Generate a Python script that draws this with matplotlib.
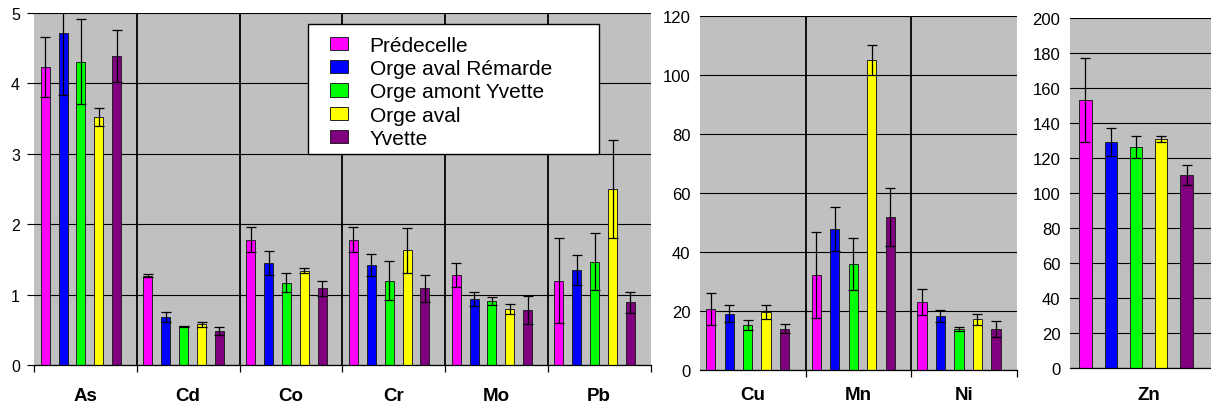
import matplotlib.pyplot as plt
from matplotlib.patches import Patch, Rectangle
import numpy as np

plt.rcParams['font.family'] = ['Liberation Sans', 'DejaVu Sans']

stations = ['Prédecelle', 'Orge aval Rémarde', 'Orge amont Yvette', 'Orge aval', 'Yvette']
colors = ['#ff00ff', '#0000ff', '#00ff00', '#ffff00', '#800080']

# panel 1 : As, Cd, Co, Cr, Mo, Pb  (one row per station)
elem1 = ['As', 'Cd', 'Co', 'Cr', 'Mo', 'Pb']
val1 = [[4.23, 1.27, 1.78, 1.78, 1.28, 1.20],
        [4.72, 0.68, 1.45, 1.42, 0.94, 1.35],
        [4.31, 0.55, 1.17, 1.20, 0.91, 1.47],
        [3.52, 0.58, 1.34, 1.63, 0.79, 2.50],
        [4.39, 0.48, 1.09, 1.09, 0.78, 0.89]]
err1 = [[0.43, 0.02, 0.18, 0.18, 0.17, 0.60],
        [0.89, 0.07, 0.17, 0.15, 0.10, 0.21],
        [0.60, 0.01, 0.14, 0.28, 0.06, 0.41],
        [0.13, 0.035, 0.04, 0.32, 0.07, 0.69],
        [0.37, 0.06, 0.11, 0.19, 0.20, 0.15]]

# panel 2 : Cu, Mn, Ni
elem2 = ['Cu', 'Mn', 'Ni']
val2 = [[20.7, 32.2, 23.0],
        [19.1, 47.9, 18.3],
        [15.3, 35.9, 13.9],
        [19.7, 105.0, 17.2],
        [14.0, 51.9, 14.0]]
err2 = [[5.5, 14.5, 4.3],
        [2.9, 7.4, 1.9],
        [1.6, 8.8, 0.8],
        [2.3, 5.1, 1.8],
        [1.6, 9.8, 2.7]]

# panel 3 : Zn
elem3 = ['Zn']
val3 = [[153.0], [129.1], [126.1], [130.9], [110.3]]
err3 = [[24.0], [8.0], [6.3], [1.7], [5.7]]

fig = plt.figure(figsize=(12.11, 4.06), dpi=100)
W, H = 1211, 406


def panel(rect, elems, vals, errs, ymax, ystep, first, step, width, fs_tick, left_ticks):
    ax = fig.add_axes([rect[0] / W, 1 - rect[3] / H, (rect[1] - rect[0]) / W, (rect[3] - rect[2]) / H])
    ax.set_facecolor('#c0c0c0')
    n = len(elems)
    x = np.arange(n)
    for k in range(5):
        ax.bar(x + first + k * step, vals[k], width, align='center', color=colors[k],
               edgecolor='#222222', linewidth=0.7, zorder=3,
               yerr=errs[k], error_kw=dict(ecolor='black', elinewidth=0.9, capsize=3.5, capthick=0.9, zorder=4))
    ax.set_xlim(0, n)
    ax.set_ylim(0, ymax)
    ax.set_yticks(np.arange(0, ymax + ystep / 2, ystep))
    ax.yaxis.grid(True, color='black', linewidth=0.8, zorder=1)
    for b in range(1, n):
        ax.axvline(b, color='black', linewidth=1.3, zorder=2)
    for s in ['top', 'right', 'left']:
        ax.spines[s].set_visible(False)
    ax.spines['bottom'].set_color('black')
    ax.spines['bottom'].set_linewidth(0.9)
    ax.spines['bottom'].set_zorder(5)
    ax.set_xticks(np.arange(0, n + 1) if left_ticks else np.arange(1, n + 1))
    ax.set_xticklabels([])
    ax.set_xticks(x + 0.5, minor=True)
    ax.set_xticklabels(elems, minor=True, fontweight='bold', fontsize=13.5)
    ax.tick_params(axis='x', which='major', length=5, width=0.9, color='black', direction='out')
    # category names all sit on the same line (~y=395 px)
    ax.tick_params(axis='x', which='minor', length=0, pad=15.5 - (rect[3] - 366) * 0.75)
    ax.tick_params(axis='y', length=5 if left_ticks else 0, width=0.8, labelsize=fs_tick,
                   pad=5 if left_ticks else 7)
    return ax


ax1 = panel((34, 650.5, 14, 366), elem1, val1, err1, 5, 1, 0.109, 0.174, 0.088, 11.5, True)
ax2 = panel((700, 1017, 17, 371), elem2, val2, err2, 120, 20, 0.101, 0.175, 0.088, 12, False)
ax3 = panel((1070, 1228, 19, 369), elem3, val3, err3, 200, 20, 0.098, 0.160, 0.078, 12, False)

# legend box
fig.patches.append(Rectangle((308 / W, 1 - 155 / H), (599 - 308) / W, (155 - 25) / H,
                             transform=fig.transFigure, facecolor='white', edgecolor='black',
                             linewidth=1.0, zorder=4))
handles = [Patch(facecolor=c, edgecolor='#222222', linewidth=0.7) for c in colors]
fig.legend(handles, stations, loc='upper left', bbox_to_anchor=(330 / W, 1 - 37 / H),
           frameon=False, fontsize=15, handlelength=0.85, handleheight=0.6,
           labelspacing=0.2, handletextpad=1.05, borderaxespad=0, borderpad=0)

plt.savefig('out.png', dpi=100)
